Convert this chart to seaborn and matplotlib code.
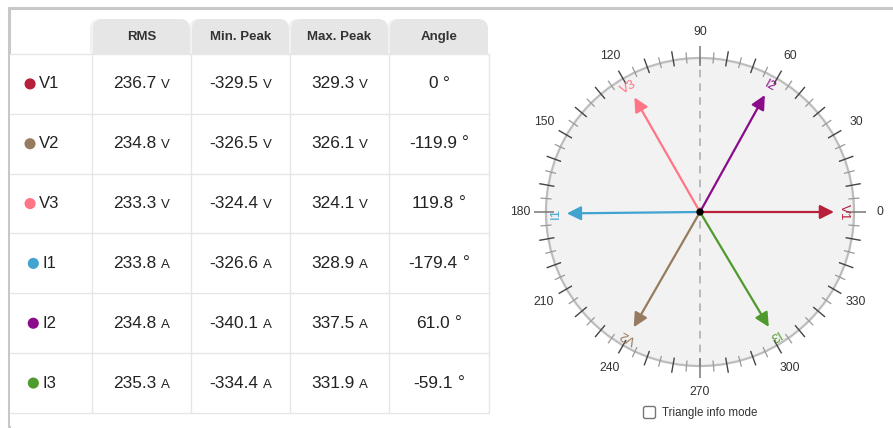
import numpy as np
import matplotlib
matplotlib.use("Agg")
import matplotlib.pyplot as plt
from matplotlib.patches import Circle, FancyBboxPatch, Rectangle
from matplotlib.offsetbox import TextArea, HPacker, AnnotationBbox, DrawingArea
import seaborn as sns

# data
names = ["V1", "V2", "V3", "I1", "I2", "I3"]
units = ["V", "V", "V", "A", "A", "A"]
rms = [236.7, 234.8, 233.3, 233.8, 234.8, 235.3]
min_peak = [-329.5, -326.5, -324.4, -326.6, -340.1, -334.4]
max_peak = [329.3, 326.1, 324.1, 328.9, 337.5, 331.9]
angles = [0.0, -119.9, 119.8, -179.4, 61.0, -59.1]
colors = ["#b71f3b", "#977b5f", "#ff7585", "#42a3d1", "#8b0b8b", "#4f9a2c"]
headers = ["RMS", "Min. Peak", "Max. Peak", "Angle"]
dial_labels = list(range(0, 360, 30))

sns.set_theme(style="white")
plt.rcParams["font.family"] = ["Liberation Sans", "DejaVu Sans"]

fig = plt.figure(figsize=(8.93, 4.28), dpi=100)
ax = fig.add_axes([0, 0, 1, 1])
ax.set_xlim(0, 893)
ax.set_ylim(428, 0)
ax.axis("off")

# panel border
ax.plot([8, 893], [7.5, 7.5], color="#c8c8c8", lw=2.2, solid_capstyle="butt")
ax.plot([8.5, 8.5], [6.5, 428], color="#c8c8c8", lw=2.2, solid_capstyle="butt")

col_x = [92, 191, 290, 389, 489]
row_y = [54 + 59.83 * i for i in range(7)]

# header tabs
for i, h in enumerate(headers):
    x0, x1 = col_x[i], col_x[i + 1]
    ax.add_patch(FancyBboxPatch((x0 - 2, 19), x1 - x0, 50,
                                boxstyle="round,pad=0,rounding_size=10",
                                fc="#f2f2f2", ec="none", zorder=1))
    ax.add_patch(FancyBboxPatch((x0 + 1, 19), x1 - x0 - 2, 50,
                                boxstyle="round,pad=0,rounding_size=10",
                                fc="#e6e6e6", ec="none", zorder=2))
    ax.text((x0 + x1) / 2, 36.5, h, ha="center", va="center", fontsize=9.5,
            fontweight="bold", color="#333333", zorder=4)

ax.add_patch(Rectangle((9.5, 54), 480, 372, fc="white", ec="none", zorder=3))

# grid
for y in row_y:
    ax.plot([9.5, 489], [y, y], color="#e6e6e6", lw=1.0, zorder=4)
for x in col_x:
    ax.plot([x, x], [54, row_y[-1]], color="#e6e6e6", lw=1.0, zorder=4)


def cell(value, unit, x, y, unit_size=9.5):
    box = HPacker(children=[TextArea(value, textprops=dict(fontsize=12.4, color="#222222")),
                            TextArea(unit, textprops=dict(fontsize=unit_size, color="#222222"))],
                  align="baseline", pad=0, sep=3.5)
    ab = AnnotationBbox(box, (x, y), frameon=False, box_alignment=(0.5, 0.5), zorder=5)
    ax.add_artist(ab)


for r in range(6):
    cy = (row_y[r] + row_y[r + 1]) / 2
    da = DrawingArea(8.4, 8.4, 0, 0)
    da.add_artist(Circle((4.2, 4.2), 4.0, fc=colors[r], ec="none"))
    name_box = HPacker(children=[da, TextArea(names[r], textprops=dict(fontsize=12, color="#222222"))],
                       align="center", pad=0, sep=2.5)
    ax.add_artist(AnnotationBbox(name_box, (42, cy), frameon=False,
                                 box_alignment=(0.5, 0.5), zorder=5))
    vals = [rms[r], min_peak[r], max_peak[r]]
    for c, v in enumerate(vals):
        cell(f"{v:.1f}", units[r], (col_x[c] + col_x[c + 1]) / 2, cy)
    a = angles[r]
    cell("0" if a == 0 else f"{a:.1f}", "°", (col_x[3] + col_x[4]) / 2, cy, unit_size=12.4)

# checkbox
ax.add_patch(FancyBboxPatch((643.5, 406.5), 12, 12, boxstyle="round,pad=0,rounding_size=2",
                            fc="white", ec="#767676", lw=1))
ax.text(662, 413, "Triangle info mode", ha="left", va="center", fontsize=8.3, color="#333333")

# phasor diagram
R = 154.0
pax = fig.add_axes([500 / 893, 16 / 428, 400 / 893, 400 / 428])
pax.axis("off")
pax.patch.set_alpha(0)

pax.add_patch(Circle((0, 0), 1, fc="#f2f2f2", ec="#bdbdbd", lw=1.6, zorder=1))
pax.plot([0, 0], [-1, 1], color="#aaaaaa", lw=1.1, ls=(0, (5, 4)), zorder=2)

for deg in range(0, 360, 5):
    t = np.deg2rad(deg)
    if deg % 90 == 0:
        r0, r1, col, lw = 0.95, 1.075, "#777777", 1.1
    elif deg % 10 == 0:
        r0, r1, col, lw = 0.96, 1.06, "#444444", 1.0
    else:
        r0, r1, col, lw = 0.968, 1.04, "#999999", 0.9
    pax.plot([r0 * np.cos(t), r1 * np.cos(t)], [r0 * np.sin(t), r1 * np.sin(t)],
             color=col, lw=lw, zorder=2, solid_capstyle="butt")

for d in dial_labels:
    t = np.deg2rad(d)
    pax.text(1.17 * np.cos(t), 1.17 * np.sin(t), str(d), ha="center", va="center",
             fontsize=8.7, color="#333333")

v_max = max(rms[:3])
i_max = max(rms[3:])
for r in range(6):
    t = np.deg2rad(angles[r])
    L = 0.87 * rms[r] / (v_max if r < 3 else i_max)
    pax.annotate("", xy=(L * np.cos(t), L * np.sin(t)), xytext=(0, 0),
                 arrowprops=dict(arrowstyle="-|>,head_length=0.6,head_width=0.3",
                                 color=colors[r], lw=1.6, mutation_scale=14,
                                 shrinkA=0, shrinkB=0), zorder=3)
    pax.text(0.935 * np.cos(t), 0.935 * np.sin(t), names[r], rotation=angles[r] - 90,
             rotation_mode="anchor", ha="center", va="center", fontsize=9.5,
             color=colors[r], zorder=4)

sns.scatterplot(x=[0], y=[0], color="black", s=28, ax=pax, zorder=5, edgecolor="none")
pax.set_xlim(-200 / R, 200 / R)
pax.set_ylim(-200 / R, 200 / R)

fig.savefig("out.png", dpi=100)
